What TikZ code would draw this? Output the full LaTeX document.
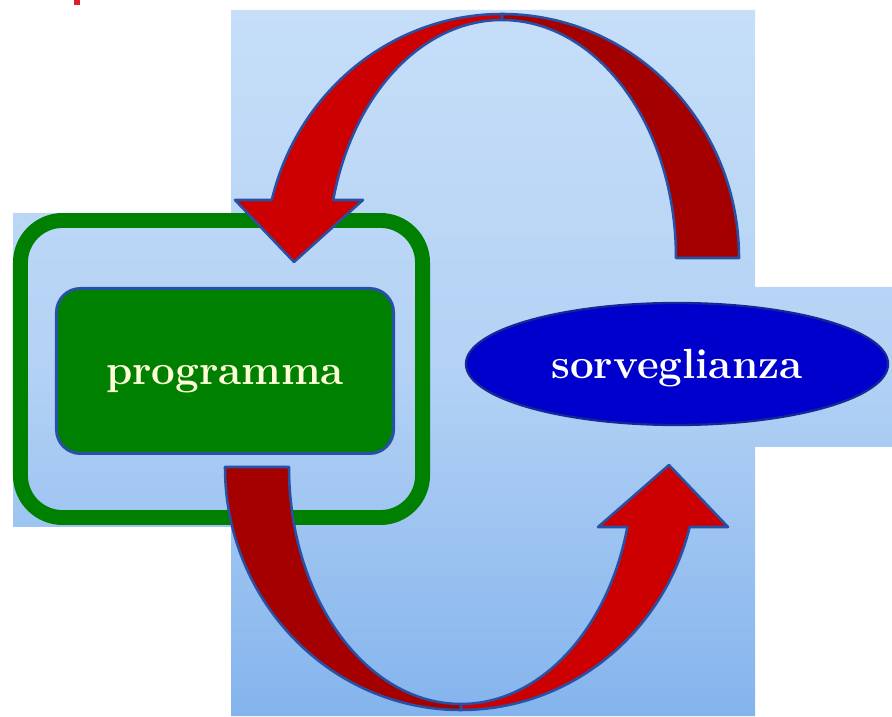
\documentclass[tikz,border=0pt]{standalone}
\usetikzlibrary{shapes.geometric}
\definecolor{bgtop}{RGB}{198,222,248}
\definecolor{bgmid}{RGB}{180,210,245}
\definecolor{bgbot}{RGB}{132,180,237}
\definecolor{framegreen}{RGB}{0,128,0}
\definecolor{edgeblue}{RGB}{40,80,165}
\definecolor{ovalblue}{RGB}{0,0,204}
\definecolor{ovaledge}{RGB}{20,40,150}
\definecolor{redfront}{RGB}{204,0,0}
\definecolor{redback}{RGB}{165,0,0}
\definecolor{markred}{RGB}{220,30,45}
\definecolor{cream}{RGB}{255,255,215}
\tikzset{
  wordtext/.style={font=\fontsize{30}{36}\selectfont\bfseries,text height=0.8cm,text depth=0.1cm,inner sep=0pt},
  arrowband/.style={draw=edgeblue,line width=1.8pt,line join=round}
}
\begin{document}
\begin{tikzpicture}[x=0.025cm,y=0.025cm]
  \useasboundingbox (0,0) rectangle (892,716);

  % background panels
  \shade[top color=bgtop,bottom color=bgbot,middle color=bgmid]
    (231,0) -- (231,189) -- (13,189) -- (13,503) -- (231,503) -- (231,706)
    -- (755,706) -- (755,429) -- (892,429) -- (892,269) -- (755,269) -- (755,0) -- cycle;
  \fill[markred] (74,711) rectangle (80,716);

  \node[draw=framegreen,line width=10.6pt,rounded corners=30pt,inner sep=0pt,
        minimum width=10.05cm,minimum height=7.425cm] (frame) at (221.5,347) {};
  \node[wordtext,draw=edgeblue,line width=2.1pt,fill=framegreen,text=cream,rounded corners=17pt,
        minimum width=8.425cm,minimum height=4.125cm] (programma) at (225,345) {programma};
  \node[wordtext,ellipse,draw=ovaledge,line width=1.6pt,fill=ovalblue,text=white,
        minimum width=10.55cm,minimum height=3.05cm] (sorveglianza) at (677,352) {sorveglianza};

  % upper curved arrow
  \coordinate (topc) at (502,458);
  \fill[redback,arrowband] (739,458) arc[start angle=0,end angle=90,x radius=237,y radius=244]
    -- (502,696) arc[start angle=90,end angle=0,x radius=174,y radius=238] -- cycle;
  \fill[redfront,arrowband] (502,702) arc[start angle=90,end angle=166.25,x radius=237,y radius=244]
    -- (235,516) -- (294,454) -- (363,516) -- (333.2,516)
    arc[start angle=165.9,end angle=90,x radius=174,y radius=238] -- cycle;

  % lower curved arrow
  \coordinate (botc) at (461,249);
  \fill[redback,arrowband] (225,249) arc[start angle=180,end angle=270,x radius=236,y radius=243]
    -- (461,12) arc[start angle=270,end angle=180,x radius=172,y radius=237] -- cycle;
  \fill[redfront,arrowband] (461,6) arc[start angle=270,end angle=345.7,x radius=236,y radius=243]
    -- (728,189) -- (669,251) -- (598,189) -- (627.4,189)
    arc[start angle=345.33,end angle=270,x radius=172,y radius=237] -- cycle;
\end{tikzpicture}
\end{document}
